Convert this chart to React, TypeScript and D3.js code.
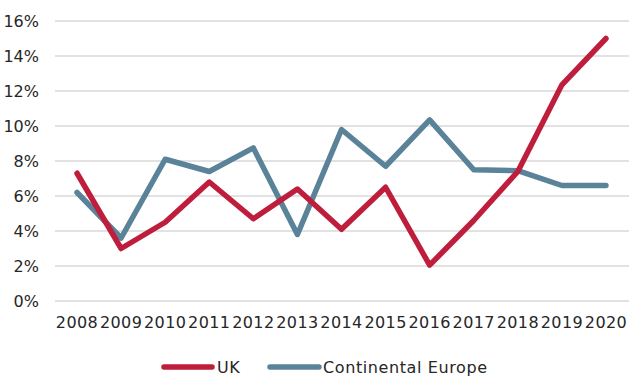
import React from "react";
import * as d3 from "d3";

const years = ["2008", "2009", "2010", "2011", "2012", "2013", "2014", "2015", "2016", "2017", "2018", "2019", "2020"];
const ukValues = [7.3, 3.0, 4.5, 6.8, 4.7, 6.4, 4.1, 6.5, 2.05, 4.6, 7.4, 12.35, 15.0];
const europeValues = [6.2, 3.6, 8.1, 7.4, 8.75, 3.8, 9.8, 7.7, 10.35, 7.5, 7.45, 6.6, 6.6];
const yTicks = [0, 2, 4, 6, 8, 10, 12, 14, 16];
const seriesNames = ["UK", "Continental Europe"];

const W = 644;
const H = 389;
const FONT = "'DejaVu Sans', sans-serif";
const RED = "#BE1E3C";
const BLUE = "#5A8299";
const TEXT = "#262626";

export default function App() {
  const x = d3.scaleBand<string>().domain(years).range([55, 628]).padding(0);
  const y = d3.scaleLinear().domain([0, 16]).range([301, 21]);
  const cx = (yr: string) => (x(yr) ?? 0) + x.bandwidth() / 2;

  const line = d3
    .line<number>()
    .x((_, i) => cx(years[i]))
    .y((v) => y(v));

  const series = [
    { name: seriesNames[1], values: europeValues, color: BLUE },
    { name: seriesNames[0], values: ukValues, color: RED },
  ];

  return (
    <div style={{ position: "absolute", left: 0, top: 0 }}>
      <svg width={W} height={H} style={{ display: "block", background: "#fff" }}>
        {yTicks.map((t) => (
          <g key={t}>
            <line x1={55} x2={629} y1={y(t)} y2={y(t)} stroke="#D9D9D9" strokeWidth={1.5} />
            <text
              x={39}
              y={y(t)}
              dy="0.36em"
              textAnchor="end"
              fontFamily={FONT}
              fontSize={16}
              fill={TEXT}
            >
              {t + "%"}
            </text>
          </g>
        ))}
        {years.map((yr) => (
          <text
            key={yr}
            x={cx(yr)}
            y={328}
            textAnchor="middle"
            fontFamily={FONT}
            fontSize={16}
            letterSpacing={0.4}
            fill={TEXT}
          >
            {yr}
          </text>
        ))}
        {series.map((s) => (
          <path
            key={s.name}
            d={line(s.values) ?? ""}
            fill="none"
            stroke={s.color}
            strokeWidth={5.5}
            strokeLinejoin="round"
            strokeLinecap="round"
          />
        ))}
        <g>
          <line x1={164} x2={212} y1={367} y2={367} stroke={RED} strokeWidth={5.5} strokeLinecap="round" />
          <text x={217} y={373} fontFamily={FONT} fontSize={16} letterSpacing={0.6} fill={TEXT}>
            {seriesNames[0]}
          </text>
          <line x1={270} x2={319} y1={367} y2={367} stroke={BLUE} strokeWidth={5.5} strokeLinecap="round" />
          <text x={323} y={373} fontFamily={FONT} fontSize={16} letterSpacing={0.6} fill={TEXT}>
            {seriesNames[1]}
          </text>
        </g>
      </svg>
    </div>
  );
}
